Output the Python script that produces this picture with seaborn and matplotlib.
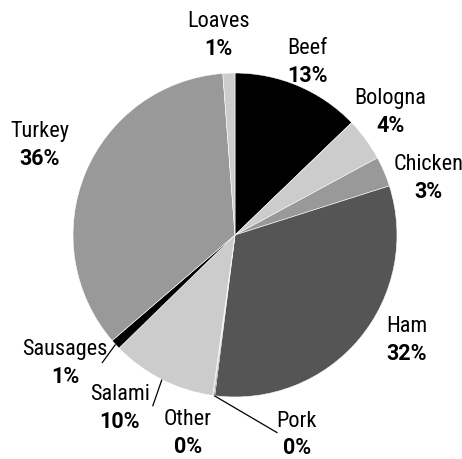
import numpy as np
import matplotlib
matplotlib.use("Agg")
import matplotlib.pyplot as plt
import seaborn as sns

sns.set_theme(style="white")
plt.rcParams['font.family'] = ['Roboto Condensed', 'DejaVu Sans']

categories = ["Beef", "Bologna", "Chicken", "Ham", "Pork", "Other",
              "Salami", "Sausages", "Turkey", "Loaves"]
values = [12.8, 4.3, 3.0, 31.9, 0.1, 0.1, 10.5, 1.0, 35.1, 1.2]
pct_labels = ["13%", "4%", "3%", "32%", "0%", "0%", "10%", "1%", "36%", "1%"]
colors = ["#000000", "#cccccc", "#999999", "#555555", "#000000", "#999999",
          "#cccccc", "#000000", "#999999", "#cccccc"]

# label placement: (distance from centre in radii, angle nudge in degrees)
label_dist = [1.16, 1.225, 1.245, 1.24, 1.285, 1.25, 1.28, 1.31, 1.33, 1.245]
angle_nudge = [-0.5, -2.4, 6.3, -8.6, -24.6, 5.7, 7.0, 5.7, 2.5, -2.6]
# leader line end offset from label centre (None = no leader)
leader_off = [None, None, None, None, (-0.118, 0.006), None,
              (0.204, 0.006), (0.228, -0.006), None, None]

fig = plt.figure(figsize=(4.62, 4.60), dpi=100)
ax = fig.add_axes([0, 0, 1, 1])
R = 162.0
wedges, _ = ax.pie(values, colors=colors, startangle=90, counterclock=False,
                   radius=1.0, wedgeprops=dict(linewidth=0.4, edgecolor="white"))
ax.set_xlim(-235 / R, (462 - 235) / R)
ax.set_ylim(-(460 - 236) / R, 236 / R)
ax.set_aspect("equal")
ax.axis("off")

total = sum(values)
cum = 0.0
for i, v in enumerate(values):
    mid = (cum + v / 2) / total * 360.0
    cum += v
    ang = np.deg2rad(mid + angle_nudge[i])
    d = label_dist[i]
    lx, ly = d * np.sin(ang), d * np.cos(ang)
    ax.text(lx, ly + 0.084, categories[i], ha="center", va="center",
            fontsize=16, color="black", family=['Roboto Condensed', 'DejaVu Sans'])
    ax.text(lx, ly - 0.084, pct_labels[i], ha="center", va="center",
            fontsize=15.5, fontweight="bold", color="black",
            family=['Roboto', 'DejaVu Sans'])
    if leader_off[i] is not None:
        a0 = np.deg2rad(mid)
        x0, y0 = np.sin(a0), np.cos(a0)
        x1, y1 = lx + leader_off[i][0], ly + leader_off[i][1]
        ax.plot([x0, x1], [y0, y1], color="black", linewidth=0.9,
                solid_capstyle="butt")

fig.savefig("out.png", dpi=100)
